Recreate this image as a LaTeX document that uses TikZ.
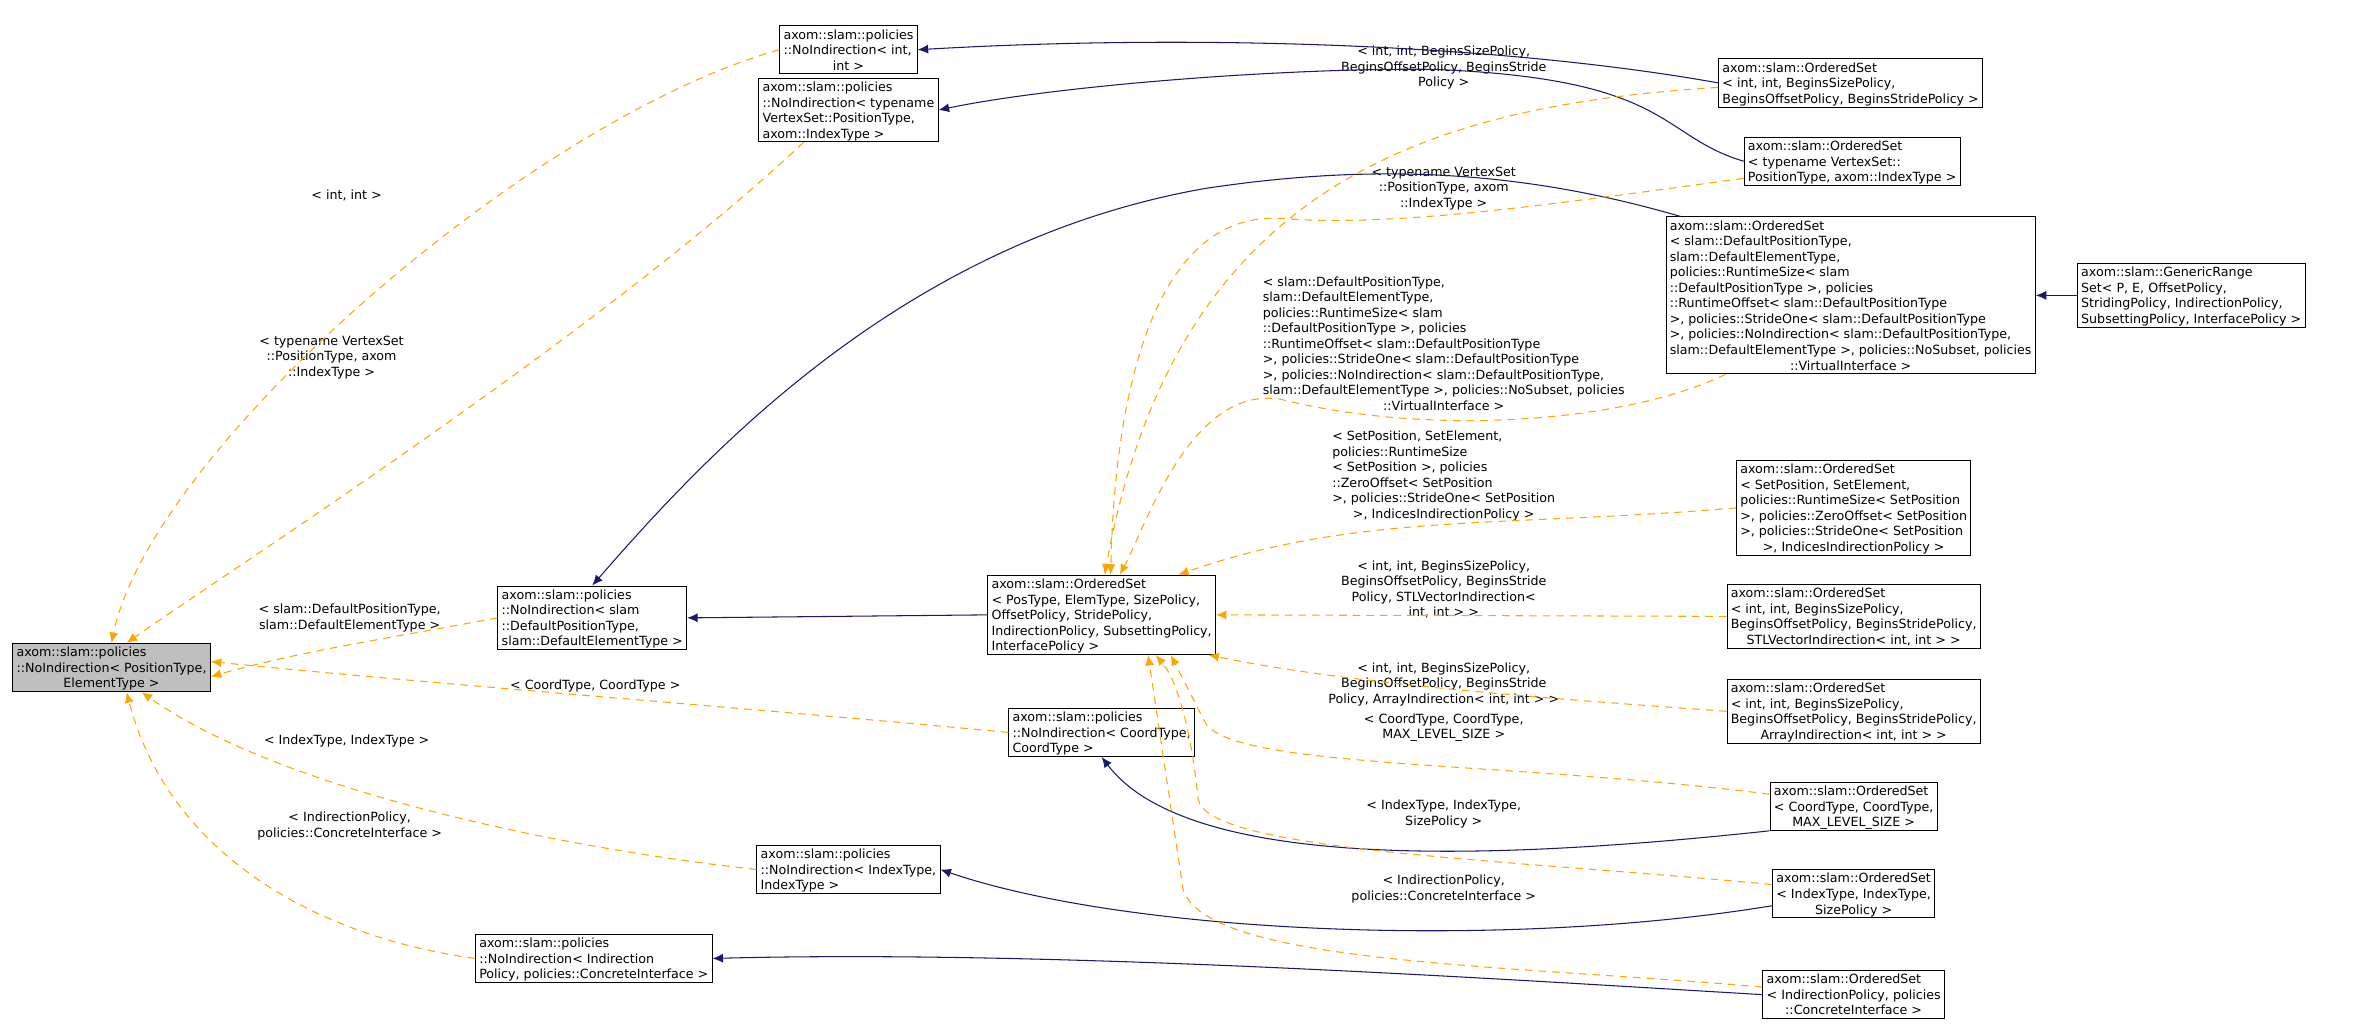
\documentclass[tikz,border=0pt]{standalone}
\usepackage{fontspec}
\setmainfont{DejaVu Sans}
\usetikzlibrary{arrows.meta}
\definecolor{inh}{HTML}{191970}
\definecolor{tmpl}{HTML}{FFA500}
\begin{document}
\begin{tikzpicture}[x=1pt,y=-1pt,
  every node/.style={font=\fontsize{8.4}{10.3}\selectfont},
  box/.style={draw, line width=0.6pt, align=left, inner sep=2.5pt, text depth=0pt},
  lbl/.style={align=center, inner sep=0pt},
  inh/.style={draw=inh, line width=0.7pt, -{Latex[length=7pt,width=6pt]}, color=inh},
  tmpl/.style={draw=tmpl, line width=0.7pt, dash pattern=on 5pt off 4pt, -{Latex[length=7pt,width=6pt]}, color=tmpl}]
\useasboundingbox (0,0) rectangle (1568,682);
% nodes
\node[box, fill=black!25] (A) at (74,443) {axom::slam::policies\\::NoIndirection< PositionType,\\\hfill ElementType >\hfill\null};
\node[box] (B) at (563,33) {axom::slam::policies\\::NoIndirection< int,\\\hfill int >\hfill\null};
\node[box] (C) at (563,73) {axom::slam::policies\\::NoIndirection< typename\\VertexSet::PositionType,\\axom::IndexType >};
\node[box] (D) at (393,410) {axom::slam::policies\\::NoIndirection< slam\\::DefaultPositionType,\\slam::DefaultElementType >};
\node[box] (E) at (731,408) {axom::slam::OrderedSet\\< PosType, ElemType, SizePolicy,\\ OffsetPolicy, StridePolicy,\\ IndirectionPolicy, SubsettingPolicy,\\ InterfacePolicy >};
\node[box] (F) at (731,486) {axom::slam::policies\\::NoIndirection< CoordType,\\ CoordType >};
\node[box] (G) at (563,577) {axom::slam::policies\\::NoIndirection< IndexType,\\ IndexType >};
\node[box] (H) at (394,636) {axom::slam::policies\\::NoIndirection< Indirection\\Policy, policies::ConcreteInterface >};
\node[box] (I) at (1228,55) {axom::slam::OrderedSet\\< int, int, BeginsSizePolicy,\\ BeginsOffsetPolicy, BeginsStridePolicy >};
\node[box] (J) at (1229,107) {axom::slam::OrderedSet\\< typename VertexSet::\\PositionType, axom::IndexType >};
\node[box] (K) at (1228,196) {axom::slam::OrderedSet\\< slam::DefaultPositionType,\\ slam::DefaultElementType,\\ policies::RuntimeSize< slam\\::DefaultPositionType >, policies\\::RuntimeOffset< slam::DefaultPositionType\\ >, policies::StrideOne< slam::DefaultPositionType\\ >, policies::NoIndirection< slam::DefaultPositionType,\\ slam::DefaultElementType >, policies::NoSubset, policies\\\hfill::VirtualInterface >\hfill\null};
\node[box] (L) at (1454,196) {axom::slam::GenericRange\\Set< P, E, OffsetPolicy,\\ StridingPolicy, IndirectionPolicy,\\ SubsettingPolicy, InterfacePolicy >};
\node[box] (M) at (1230,337) {axom::slam::OrderedSet\\< SetPosition, SetElement,\\ policies::RuntimeSize< SetPosition\\ >, policies::ZeroOffset< SetPosition\\ >, policies::StrideOne< SetPosition\\\hfill >, IndicesIndirectionPolicy >\hfill\null};
\node[box] (N) at (1230,409) {axom::slam::OrderedSet\\< int, int, BeginsSizePolicy,\\ BeginsOffsetPolicy, BeginsStridePolicy,\\\hfill STLVectorIndirection< int, int > >\hfill\null};
\node[box] (O) at (1230,472) {axom::slam::OrderedSet\\< int, int, BeginsSizePolicy,\\ BeginsOffsetPolicy, BeginsStridePolicy,\\\hfill ArrayIndirection< int, int > >\hfill\null};
\node[box] (P) at (1230,535) {axom::slam::OrderedSet\\< CoordType, CoordType,\\\hfill MAX\_LEVEL\_SIZE >\hfill\null};
\node[box] (Q) at (1230,593) {axom::slam::OrderedSet\\< IndexType, IndexType,\\\hfill SizePolicy >\hfill\null};
\node[box] (R) at (1230,660) {axom::slam::OrderedSet\\< IndirectionPolicy, policies\\\hfill ::ConcreteInterface >\hfill\null};
% labels
\node[lbl] (l1) at (230,130) {< int, int >};
\node[lbl] (l2) at (220,237) {< typename VertexSet\\::PositionType, axom\\::IndexType >};
\node[lbl] (l3) at (232,410) {< slam::DefaultPositionType,\\slam::DefaultElementType >};
\node[lbl] (l4) at (395,455) {< CoordType, CoordType >};
\node[lbl] (l5) at (230,492) {< IndexType, IndexType >};
\node[lbl] (l6) at (232,548) {< IndirectionPolicy,\\policies::ConcreteInterface >};
\node[lbl] (l7) at (958,45) {< int, int, BeginsSizePolicy,\\BeginsOffsetPolicy, BeginsStride\\Policy >};
\node[lbl] (l8) at (958,125) {< typename VertexSet\\::PositionType, axom\\::IndexType >};
\node[lbl, align=left] (l9) at (958,228) {< slam::DefaultPositionType,\\slam::DefaultElementType,\\policies::RuntimeSize< slam\\::DefaultPositionType >, policies\\::RuntimeOffset< slam::DefaultPositionType\\ >, policies::StrideOne< slam::DefaultPositionType\\ >, policies::NoIndirection< slam::DefaultPositionType,\\slam::DefaultElementType >, policies::NoSubset, policies\\\hfill::VirtualInterface >\hfill\null};
\node[lbl, align=left] (l10) at (958,316) {< SetPosition, SetElement,\\policies::RuntimeSize\\< SetPosition >, policies\\::ZeroOffset< SetPosition\\ >, policies::StrideOne< SetPosition\\\hfill >, IndicesIndirectionPolicy >\hfill\null};
\node[lbl] (l11) at (958,391) {< int, int, BeginsSizePolicy,\\BeginsOffsetPolicy, BeginsStride\\Policy, STLVectorIndirection<\\int, int > >};
\node[lbl] (l12) at (958,454) {< int, int, BeginsSizePolicy,\\BeginsOffsetPolicy, BeginsStride\\Policy, ArrayIndirection< int, int > >};
\node[lbl] (l13) at (958,483) {< CoordType, CoordType,\\MAX\_LEVEL\_SIZE >};
\node[lbl] (l14) at (958,540) {< IndexType, IndexType,\\SizePolicy >};
\node[lbl] (l15) at (958,590) {< IndirectionPolicy,\\policies::ConcreteInterface >};
% inheritance edges
\draw[inh] (I.west) .. controls (1000,30) and (800,22) .. (B.east);
\draw[inh] (J.west) .. controls (1100,90) and (1110,52) .. (950,46) .. controls (850,45) and (700,57) .. (C.east);
\draw[inh] (K.north west) ++(10,0) .. controls (1000,110) and (900,110) .. (800,125) .. controls (600,160) and (470,300) .. (D.north);
\draw[inh] (L.west) -- (K.east);
\draw[inh] (E.west) -- (D.east);
\draw[inh] (P.south west) .. controls (1000,570) and (790,580) .. (F.south);
\draw[inh] (Q.west) ++(0,8) .. controls (1000,630) and (750,620) .. (G.east);
\draw[inh] (R.west) .. controls (1000,650) and (700,630) .. (H.east);
% template edges
\draw[tmpl] (B.west) .. controls (350,80) and (100,300) .. (A.north);
\draw[tmpl] (C.south west) ++(30,0) .. controls (400,220) and (150,380) .. ([xshift=10pt]A.north);
\draw[tmpl] (D.west) .. controls (250,425) and (200,432) .. ([yshift=-6pt]A.east);
\draw[tmpl] (F.west) .. controls (500,470) and (300,455) .. ([yshift=4pt]A.east);
\draw[tmpl] (G.west) .. controls (350,560) and (180,520) .. ([xshift=20pt]A.south);
\draw[tmpl] (H.west) .. controls (200,620) and (110,560) .. ([xshift=10pt]A.south);
\draw[tmpl] (I.west) ++(0,3) .. controls (950,70) and (780,120) .. ([xshift=2pt]E.north);
\draw[tmpl] (J.south west) ++(0,-5) .. controls (1000,140) and (920,150) .. (850,145) .. controls (770,140) and (740,250) .. ([xshift=6pt]E.north);
\draw[tmpl] (K.south west) ++(40,0) .. controls (1080,280) and (950,290) .. (850,265) .. controls (790,255) and (760,350) .. ([xshift=12pt]E.north);
\draw[tmpl] (M.west) .. controls (1000,350) and (900,340) .. ([xshift=-25pt]E.north east);
\draw[tmpl] (N.west) -- (E.east);
\draw[tmpl] (O.west) .. controls (1050,465) and (900,455) .. ([xshift=-5pt]E.south east);
\draw[tmpl] (P.west) ++(0,-8) .. controls (1000,505) and (820,510) .. (800,480) -- ([xshift=-30pt]E.south east);
\draw[tmpl] (Q.west) ++(0,-6) .. controls (1000,570) and (800,565) .. (795,530) .. controls (790,480) and (780,450) .. ([xshift=-40pt]E.south east);
\draw[tmpl] (R.west) ++(0,-5) .. controls (1000,640) and (800,640) .. (785,590) -- ([xshift=-45pt]E.south east);
\end{tikzpicture}
\end{document}
